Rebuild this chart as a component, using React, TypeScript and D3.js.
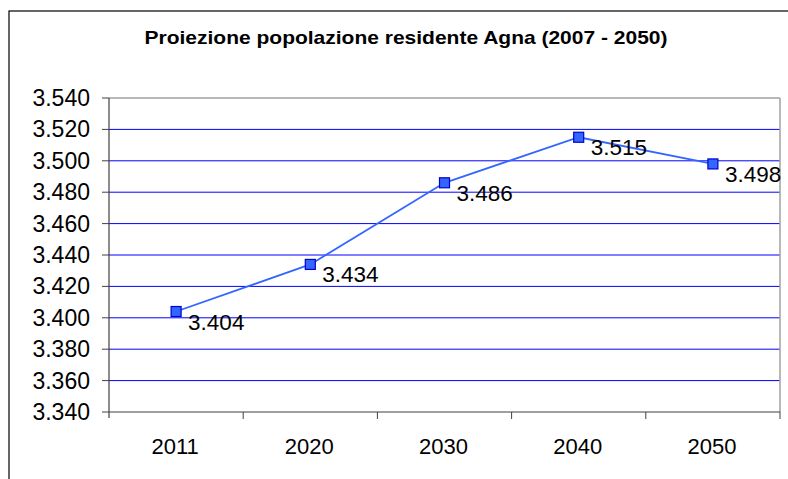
import React from "react";
import * as d3 from "d3";

const years = ["2011", "2020", "2030", "2040", "2050"];
const population = [3404, 3434, 3486, 3515, 3498];
const yTicks = [3340, 3360, 3380, 3400, 3420, 3440, 3460, 3480, 3500, 3520, 3540];
const title = "Proiezione popolazione residente Agna (2007 - 2050)";

const fmt = (v: number) => d3.format(",")(v).replace(",", ".");

const App = () => {
  const width = 788;
  const height = 479;
  const margins = { top: 98, right: 8, bottom: 67, left: 109 };

  const xScale = d3
    .scaleBand<string>()
    .domain(years)
    .range([margins.left, width - margins.right])
    .padding(0);

  const yScale = d3
    .scaleLinear()
    .domain([3340, 3540])
    .range([height - margins.bottom, margins.top]);

  const line = d3
    .line<number>()
    .x((d, i) => xScale(years[i])! + xScale.bandwidth() / 2)
    .y((d) => yScale(d));

  const x0 = margins.left;
  const x1 = width - margins.right;
  const yBottom = yScale(3340);
  const yTop = yScale(3540);
  const font = "Arial, 'Liberation Sans', sans-serif";

  return (
    <svg
      width={width}
      height={height}
      style={{ position: "absolute", left: 0, top: 0, background: "#fff" }}
      fontFamily={font}
    >
      <rect x={9} y={11} width={900} height={600} fill="#fff" stroke="#000" strokeWidth={1.2} />
      <text x={406} y={44} textAnchor="middle" fontSize={19} fontWeight="bold" textLength={523} lengthAdjust="spacingAndGlyphs">
        {title}
      </text>

      {/* grid */}
      {yTicks.slice(1, -1).map((t) => (
        <line key={t} x1={x0} x2={x1} y1={yScale(t)} y2={yScale(t)} stroke="#0000ff" strokeWidth={1} />
      ))}
      <line x1={x0} x2={x1} y1={yTop} y2={yTop} stroke="#a0a0a0" strokeWidth={1.5} />
      <line x1={x1} x2={x1} y1={yTop} y2={yBottom} stroke="#a0a0a0" strokeWidth={1.5} />

      {/* y axis */}
      <line x1={x0} x2={x0} y1={yTop} y2={yBottom + 6} stroke="#404040" strokeWidth={1.2} />
      {yTicks.map((t) => (
        <g key={t}>
          <line x1={x0 - 7} x2={x0} y1={yScale(t)} y2={yScale(t)} stroke="#404040" strokeWidth={1} />
          <text x={90} y={yScale(t) + 8} textAnchor="end" fontSize={23}>
            {fmt(t)}
          </text>
        </g>
      ))}

      {/* x axis */}
      <line x1={x0} x2={x1} y1={yBottom} y2={yBottom} stroke="#404040" strokeWidth={1.2} />
      {years.map((y) => (
        <g key={y}>
          <line x1={xScale(y)! + xScale.bandwidth()} x2={xScale(y)! + xScale.bandwidth()} y1={yBottom} y2={yBottom + 7} stroke="#404040" strokeWidth={1} />
          <text x={xScale(y)! + xScale.bandwidth() / 2 - 1} y={454} textAnchor="middle" fontSize={22}>
            {y}
          </text>
        </g>
      ))}

      {/* series */}
      <path d={line(population)!} fill="none" stroke="#3366ff" strokeWidth={1.8} />
      {population.map((v, i) => {
        const cx = xScale(years[i])! + xScale.bandwidth() / 2;
        const cy = yScale(v);
        return (
          <g key={years[i]}>
            <rect x={cx - 5} y={cy - 5} width={10} height={10} fill="#3366ff" stroke="#0000cc" strokeWidth={1.2} />
            <text x={cx + 12} y={cy + 18} fontSize={22.5}>
              {fmt(v)}
            </text>
          </g>
        );
      })}
    </svg>
  );
};

export default App;
